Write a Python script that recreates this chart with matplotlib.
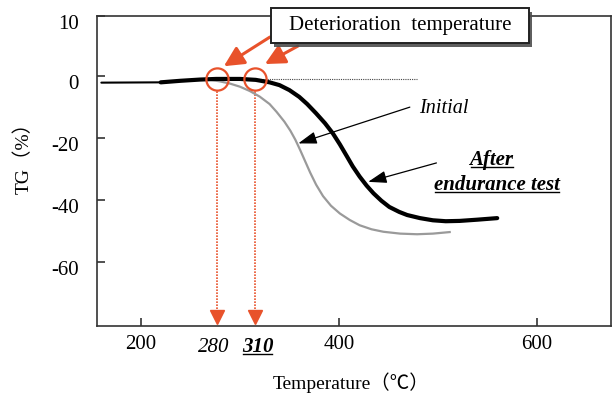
import matplotlib
matplotlib.use('Agg')
import matplotlib.pyplot as plt
import matplotlib.patheffects as pe
from matplotlib.patches import Rectangle
from matplotlib.lines import Line2D
from matplotlib.transforms import ScaledTranslation

plt.rcParams['font.family'] = ['Liberation Serif', 'Noto Sans CJK JP', 'DejaVu Sans']
plt.rcParams['axes.unicode_minus'] = False

# TG curve, before and after the endurance test
initial_temp = [270, 280, 290, 300, 310, 320, 330, 337, 345, 351, 356, 361, 366, 371,
                377, 384, 392, 401, 411, 421, 433, 445, 462, 479, 495, 512]
initial_tg = [-1.2, -1.7, -2.4, -3.4, -4.8, -6.6, -9.0, -11.5, -14.7, -17.6, -20.5, -23.9,
              -27.5, -31.1, -35.0, -38.7, -41.8, -44.3, -46.4, -48.1, -49.4, -50.2, -50.8,
              -51.0, -50.8, -50.3]

after_temp = [160, 220, 240, 260, 276, 300, 316, 330, 340, 350, 360, 368, 377, 386, 394,
              401, 408, 414, 421, 428, 435, 443, 451, 461, 469, 482, 495, 508, 522, 540, 560]
after_tg = [-2.1, -2.0, -1.5, -1.1, -0.9, -0.9, -1.2, -2.0, -2.9, -4.5, -6.7, -9.0, -12.0,
            -15.2, -18.5, -22.0, -25.8, -29.1, -32.4, -35.3, -37.8, -40.2, -42.2, -43.8,
            -44.8, -45.8, -46.5, -46.8, -46.7, -46.3, -45.8]

# deterioration temperatures (marked points) and their labels
det_temp = [277, 315]
det_labels = ['280', '310']
onset_tg = -1.0

# dotted reference level
ref_temp = [316, 479]
ref_tg = [-1.0, -1.0]

xticks = [200, 400, 600]
yticks = [-60, -40, -20, 0, 19.4]
ytick_labels = ['-60', '-40', '-20', '0', '10']

orange = '#e8522b'

fig = plt.figure(figsize=(6.13, 3.96), dpi=100)
ax = fig.add_axes([97 / 613, 1 - 326 / 396, 514 / 613, 310 / 396])
ax.set_xlim(155.6, 675)
ax.set_ylim(-80.6, 19.4)

# curves
ax.plot(after_temp[:2], after_tg[:2], color='black', lw=1.5, solid_capstyle='round')
ax.plot(initial_temp, initial_tg, color='#9a9a9a', lw=1.6, zorder=3)
ax.plot(after_temp[1:], after_tg[1:], color='black', lw=3.0, zorder=4, solid_capstyle='round')
ax.plot(ref_temp, ref_tg, color='#444444', lw=0.8, ls=(0, (1, 1)), zorder=2)

# marked deterioration points
ax.plot(det_temp, [onset_tg] * len(det_temp), 'o', ms=16, mfc='none', mec=orange, mew=1.6, zorder=5)
ax.vlines(det_temp, -75.0, -4.6, colors=orange, linestyles=(0, (1, 0.8)), lw=1.2, zorder=2)
ax.plot(det_temp, [-77.7] * len(det_temp), 'v', ms=10, color=orange, clip_on=False, zorder=5)

# labels under the arrows
xlab_tf = ax.get_xaxis_transform()
ax.text(det_temp[0] - 3, -0.068, det_labels[0], transform=xlab_tf, ha='center', va='center',
        fontsize=15, style='italic')
t310 = ax.text(det_temp[1] + 3, -0.068, det_labels[1], transform=xlab_tf, ha='center', va='center',
               fontsize=15, style='italic', weight='bold')

# text callouts
ax.text(506.5, -10.3, 'Initial', style='italic', fontsize=14.5, ha='center', va='center')
t_after = ax.text(554.3, -27.1, 'After', style='italic', weight='bold', fontsize=15,
                  ha='center', va='center')
t_end = ax.text(560.1, -35.2, 'endurance test', style='italic', weight='bold', fontsize=15,
                ha='center', va='center')

black_arrow = dict(arrowstyle='-|>,head_length=0.75,head_width=0.25', color='black', lw=0.9,
                   mutation_scale=15, shrinkA=0, shrinkB=0)
ax.annotate('', xy=(359, -21.7), xytext=(471.7, -10), arrowprops=black_arrow)
ax.annotate('', xy=(429.6, -34.1), xytext=(498.6, -28), arrowprops=black_arrow)

# boxed title with shadow
box = Rectangle((331.3, 10.6), 260.6, 11.3, fc='white', ec='#222222', lw=1.4,
                clip_on=False, zorder=6,
                path_effects=[pe.SimplePatchShadow(offset=(2.5, -2.5), shadow_rgbFace='0.3', alpha=0.9),
                              pe.Normal()])
ax.add_patch(box)
ax.text(461.6, 16.2, 'Deterioration  temperature', fontsize=15, ha='center', va='center', zorder=7)

orange_arrow = dict(arrowstyle='-|>,head_length=0.6,head_width=0.3', color=orange, lw=2.2,
                    mutation_scale=20, shrinkA=0, shrinkB=0)
ax.annotate('', xy=(283.8, 3.2), xytext=(330.3, 12.6), arrowprops=orange_arrow, zorder=5)
ax.annotate('', xy=(325.3, 3.9), xytext=(358.6, 9.7), arrowprops=orange_arrow, zorder=5)

# axes styling
for s in ax.spines.values():
    s.set_color('#333333')
    s.set_linewidth(1.2)
ax.set_xticks(xticks)
ax.set_xticklabels([str(v) for v in xticks])
ax.set_yticks(yticks)
ax.set_yticklabels(ytick_labels)
ax.tick_params(direction='in', length=6, width=1.2, labelsize=15, color='#333333')
ax.tick_params(axis='x', pad=6.5)
ax.tick_params(axis='y', pad=13)
shift = ScaledTranslation(0, -4 / 72, fig.dpi_scale_trans)
for lab in ax.get_yticklabels():
    lab.set_transform(lab.get_transform() + shift)

ax.set_xlabel('Temperature（℃）', fontsize=14)
ax.set_ylabel('TG（%）', fontsize=14)
ax.xaxis.set_label_coords(0.494, -0.15)
ax.yaxis.set_label_coords(-0.125, 0.558)

# underlines
fig.canvas.draw()
inv = fig.transFigure.inverted()
for t in [t310, t_after, t_end]:
    bb = t.get_window_extent()
    (x0, y0), (x1, _) = inv.transform([(bb.x0 + 1, bb.y0 + 3), (bb.x1 - 1, bb.y0 + 3)])
    fig.add_artist(Line2D([x0, x1], [y0, y0], color='black', lw=1.0))

fig.savefig('out.png', dpi=100)
